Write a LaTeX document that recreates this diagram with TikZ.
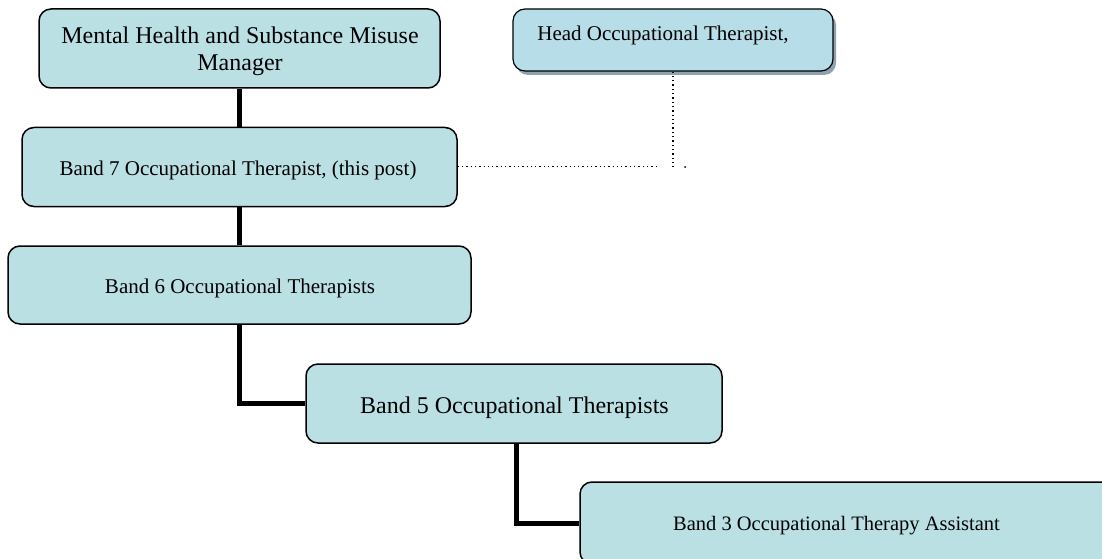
\documentclass[tikz,border=0pt]{standalone}
\usepackage{fontspec}
\setmainfont{Liberation Serif}
\usetikzlibrary{shadows}
\definecolor{boxfill}{RGB}{186,224,228}
\definecolor{headfill}{RGB}{183,221,232}
\definecolor{shadowc}{RGB}{140,163,176}
\begin{document}
\begin{tikzpicture}[x=1pt,y=-1pt,
  box/.style={draw=black, line width=1.5pt, rounded corners=12pt, fill=boxfill, inner sep=0pt},
  link/.style={line width=5pt},
  dotlink/.style={line width=1.3pt, dash pattern=on 1.3pt off 3pt},
  lbl/.style={inner sep=0pt, anchor=base, text=black}]
\useasboundingbox (0,0) rectangle (1102,559);
\clip (0,0) rectangle (1102,559);
% boxes
\node[box, minimum width=401pt, minimum height=79pt] (mgr) at (239.5,48.5) {};
\node[box, minimum width=435pt, minimum height=79pt] (b7) at (239.5,167) {};
\node[box, fill=headfill, line width=1.2pt, minimum width=320pt, minimum height=62pt,
      drop shadow={shadow xshift=3pt, shadow yshift=-4pt, fill=shadowc, opacity=1}] (head) at (673,40) {};
\node[box, minimum width=463pt, minimum height=78pt] (b6) at (239.5,285) {};
\node[box, minimum width=416pt, minimum height=79pt] (b5) at (514,403.5) {};
\node[box, minimum width=540pt, minimum height=82pt] (b3) at (850,523) {};
% texts
\node[inner sep=0pt, align=center, font=\fontsize{24}{27}\selectfont] (mgrt) at (240,51) {Mental Health and Substance Misuse\\Manager};
\node[lbl, font=\fontsize{21}{25}\selectfont] (b7t) at (238,175) {Band 7 Occupational Therapist, (this post)};
\node[lbl, font=\fontsize{21}{25}\selectfont] (headt) at (663,41) {Head Occupational Therapist,};
\node[lbl, font=\fontsize{21}{25}\selectfont] (b6t) at (240,293) {Band 6 Occupational Therapists};
\node[lbl, font=\fontsize{24}{28}\selectfont] (b5t) at (514.5,413) {Band 5 Occupational Therapists};
\node[lbl, font=\fontsize{20.5}{24}\selectfont] (b3t) at (836.5,530) {Band 3 Occupational Therapy Assistant};
% solid connectors
\draw[link] (mgr.south) -- (b7.north);
\draw[link] (b7.south) -- (b6.north);
\draw[link] (b6.south) |- (b5.west);
\draw[link] ([xshift=2pt]b5.south) |- (b3.west);
% dotted connectors
\coordinate (dh) at (659,166.5);
\coordinate (dv) at (673,167);
\draw[dotlink] (b7.east |- dh) -- (dh);
\draw[dotlink] (head.south) -- (dv);
\fill (685,167) circle (1pt);
\end{tikzpicture}
\end{document}
